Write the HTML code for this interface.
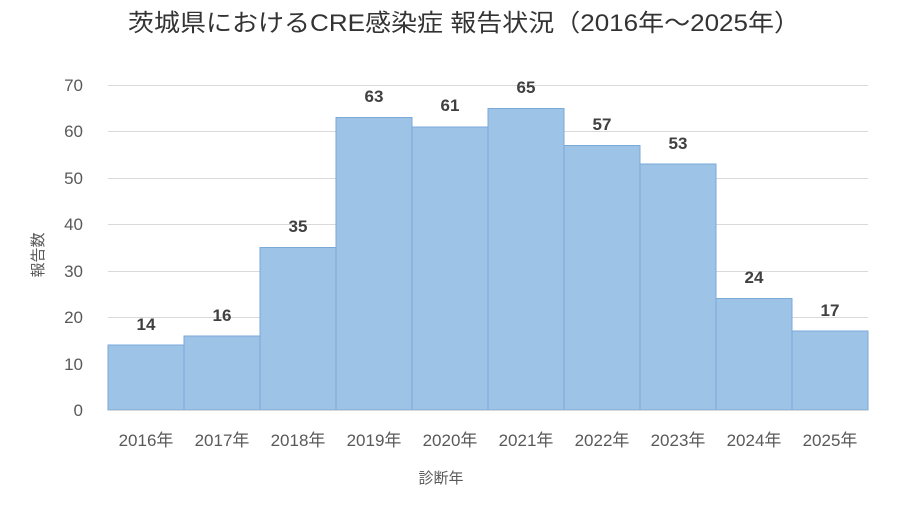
<!DOCTYPE html>
<html><head><meta charset="utf-8"><style>
body{margin:0;background:#fff}
text{font-family:"Liberation Sans","Noto Sans CJK JP",sans-serif}
</style></head><body>
<svg width="900" height="510" xmlns="http://www.w3.org/2000/svg">
<rect width="900" height="510" fill="#fff"/>
<text x="128" y="31" font-size="24" fill="#333" textLength="672" lengthAdjust="spacingAndGlyphs">茨城県におけるCRE感染症 報告状況（2016年～2025年）</text>
<g stroke="#d9d9d9" stroke-width="1">
<line x1="108" x2="868" y1="85.5" y2="85.5"/>
<line x1="108" x2="868" y1="131.5" y2="131.5"/>
<line x1="108" x2="868" y1="178.5" y2="178.5"/>
<line x1="108" x2="868" y1="224.5" y2="224.5"/>
<line x1="108" x2="868" y1="271.5" y2="271.5"/>
<line x1="108" x2="868" y1="317.5" y2="317.5"/>
<line x1="108" x2="868" y1="364.5" y2="364.5"/>
</g>
<g font-size="17" fill="#595959" text-anchor="end">
<text x="83" y="416">0</text><text x="83" y="370">10</text><text x="83" y="323">20</text>
<text x="83" y="277">30</text><text x="83" y="230">40</text><text x="83" y="184">50</text>
<text x="83" y="137">60</text><text x="83" y="91">70</text>
</g>
<g fill="#9dc3e6" stroke="#7aaad8" stroke-width="1">
<rect x="108" y="345" width="76" height="65"/>
<rect x="184" y="336" width="76" height="74"/>
<rect x="260" y="247.5" width="76" height="162.5"/>
<rect x="336" y="117.5" width="76" height="292.5"/>
<rect x="412" y="127" width="76" height="283"/>
<rect x="488" y="108.5" width="76" height="301.5"/>
<rect x="564" y="145.5" width="76" height="264.5"/>
<rect x="640" y="164" width="76" height="246"/>
<rect x="716" y="298.5" width="76" height="111.5"/>
<rect x="792" y="331" width="76" height="79"/>
</g>
<line x1="108" x2="868" y1="410.5" y2="410.5" stroke="#d9d9d9"/>
<g font-size="17" font-weight="bold" fill="#404040" text-anchor="middle">
<text x="146" y="330">14</text><text x="222" y="321">16</text><text x="298" y="232">35</text>
<text x="374" y="102">63</text><text x="450" y="111">61</text><text x="526" y="93">65</text>
<text x="602" y="130">57</text><text x="678" y="149">53</text><text x="754" y="283">24</text>
<text x="830" y="316">17</text>
</g>
<g font-size="17" fill="#595959" text-anchor="middle">
<text x="146" y="446">2016年</text><text x="222" y="446">2017年</text><text x="298" y="446">2018年</text>
<text x="374" y="446">2019年</text><text x="450" y="446">2020年</text><text x="526" y="446">2021年</text>
<text x="602" y="446">2022年</text><text x="678" y="446">2023年</text><text x="754" y="446">2024年</text>
<text x="830" y="446">2025年</text>
<text x="441" y="483" font-size="15">診断年</text>
</g>
<text transform="translate(43,255) rotate(-90)" font-size="15" fill="#595959" text-anchor="middle">報告数</text>
</svg>
</body></html>
